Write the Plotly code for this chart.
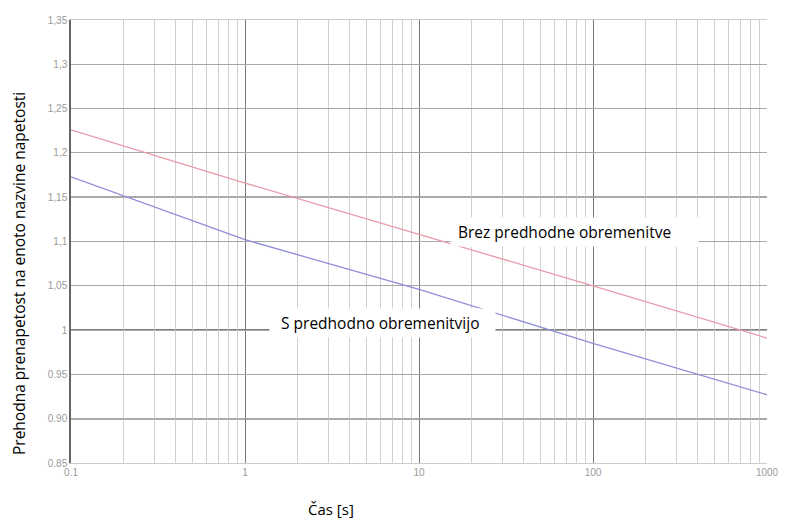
import plotly.graph_objects as go

# Data
time_s = [0.1, 1, 10, 100, 1000]
brez = [1.226, 1.166, 1.108, 1.050, 0.991]
s_pred = [1.173, 1.102, 1.046, 0.985, 0.927]

y_tickvals = [1.35, 1.3, 1.25, 1.2, 1.15, 1.1, 1.05, 1.0, 0.95, 0.9, 0.85]
y_ticktext = ["1,35", "1,3", "1,25", "1,2", "1,15", "1,1", "1,05", "1", "0.95", "0.90", "0.85"]
x_tickvals = [0.1, 1, 10, 100, 1000]
x_ticktext = ["0.1", "1", "10", "100", "1000"]
dark_y = [1.15, 1.0, 0.9]

FONT = "Open Sans"

fig = go.Figure()
fig.add_trace(go.Scatter(x=time_s, y=brez, mode="lines",
                         line=dict(color="#e89aa8", width=1.3), showlegend=False))
fig.add_trace(go.Scatter(x=time_s, y=s_pred, mode="lines",
                         line=dict(color="#8f8fd8", width=1.3), showlegend=False))

for yv in dark_y:
    fig.add_shape(type="line", xref="paper", x0=0, x1=1, yref="y", y0=yv, y1=yv,
                  line=dict(color="#555555", width=1.5), layer="below")

fig.add_annotation(x=0.7234, y=0.5214, xref="paper", yref="paper",
                   text="&nbsp;Brez predhodne obremenitve&nbsp;&nbsp;&nbsp;&nbsp;&nbsp;&nbsp;",
                   showarrow=False, xanchor="center", yanchor="middle", bgcolor="white",
                   borderpad=3, font=dict(family=FONT, size=15.5, color="black"))
fig.add_annotation(x=0.4476, y=0.316, xref="paper", yref="paper",
                   text="&nbsp;&nbsp;S predhodno obremenitvijo&nbsp;&nbsp;&nbsp;",
                   showarrow=False, xanchor="center", yanchor="middle", bgcolor="white",
                   borderpad=3, font=dict(family=FONT, size=15.5, color="black"))
fig.add_annotation(x=0.3736, y=-0.104, xref="paper", yref="paper",
                   text="Čas [s]", showarrow=False, xanchor="center", yanchor="middle",
                   font=dict(family=FONT, size=15, color="black"))
fig.add_annotation(x=-0.0747, y=0.4266, xref="paper", yref="paper",
                   text="Prehodna prenapetost na enoto nazvine napetosti", textangle=-90,
                   showarrow=False, xanchor="center", yanchor="middle",
                   font=dict(family=FONT, size=15.5, color="black"))

fig.update_xaxes(type="log", range=[-1, 3], tickvals=x_tickvals, ticktext=x_ticktext,
                 showgrid=True, gridcolor="#777777", gridwidth=1.3,
                 minor=dict(dtick="D1", showgrid=True, gridcolor="#cfcfcf", gridwidth=1),
                 tickfont=dict(family="Arial", size=10, color="#9a9a9a"),
                 showline=True, linecolor="#cccccc", mirror=True, zeroline=False, ticks="")
fig.update_yaxes(range=[0.85, 1.35], tickvals=y_tickvals, ticktext=y_ticktext,
                 showgrid=True, gridcolor="#a8a8a8", gridwidth=1,
                 tickfont=dict(family="Arial", size=10, color="#9a9a9a"),
                 showline=True, linecolor="#666666", linewidth=1.5, mirror=False,
                 zeroline=False, ticks="")

fig.update_layout(width=790, height=521, margin=dict(l=71, r=23, t=20, b=58, autoexpand=False),
                  plot_bgcolor="white", paper_bgcolor="white")
fig.write_html("out.html", config={"displayModeBar": False},
               post_script="document.body.style.margin='0';document.body.style.overflow='hidden';")
